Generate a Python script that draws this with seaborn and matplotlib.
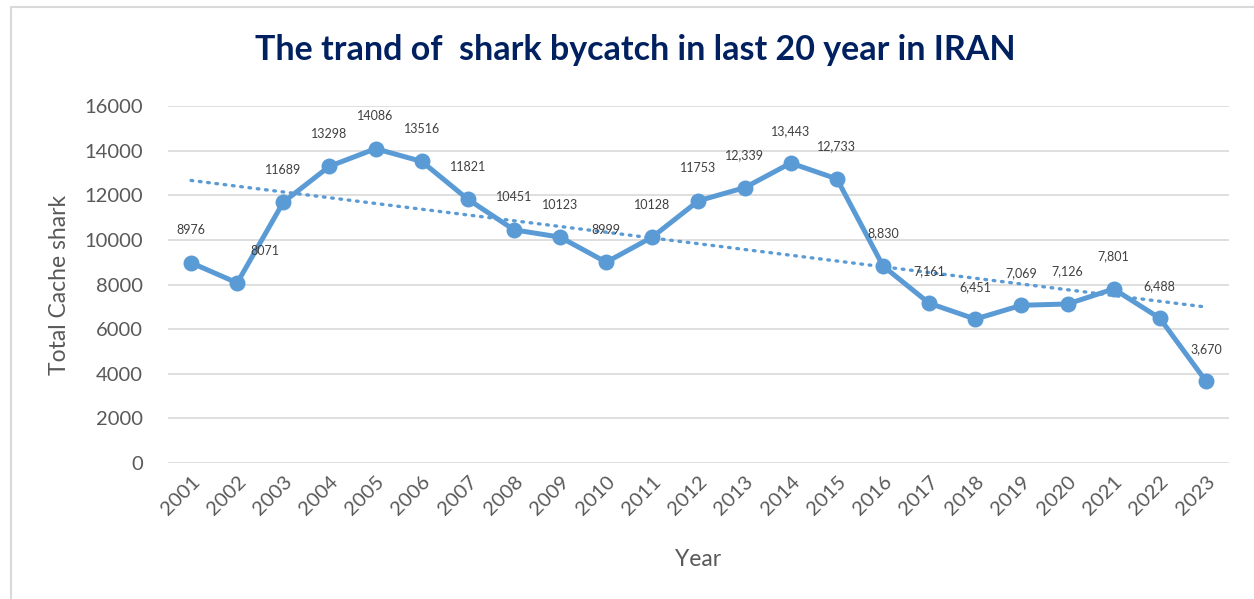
import numpy as np
import pandas as pd
import matplotlib
matplotlib.use("Agg")
import matplotlib.pyplot as plt
from matplotlib.lines import Line2D
import seaborn as sns

years = [2001, 2002, 2003, 2004, 2005, 2006, 2007, 2008, 2009, 2010, 2011, 2012,
         2013, 2014, 2015, 2016, 2017, 2018, 2019, 2020, 2021, 2022, 2023]
catch = [8976, 8071, 11689, 13298, 14086, 13516, 11821, 10451, 10123, 8999, 10128, 11753,
         12339, 13443, 12733, 8830, 7161, 6451, 7069, 7126, 7801, 6488, 3670]
point_labels = ["8976", "8071", "11689", "13298", "14086", "13516", "11821", "10451",
                "10123", "8999", "10128", "11753", "12,339", "13,443", "12,733", "8,830",
                "7,161", "6,451", "7,069", "7,126", "7,801", "6,488", "3,670"]
y_ticks = [0, 2000, 4000, 6000, 8000, 10000, 12000, 14000, 16000]

title = "The trand of  shark bycatch in last 20 year in IRAN"
xlabel = "Year"
ylabel = "Total Cache shark"

sns.set_theme(style="white")
plt.rcParams['font.family'] = ['Lato', 'DejaVu Sans']

W, H = 1254, 599
fig = plt.figure(figsize=(W / 100, H / 100), dpi=100)
ax = fig.add_axes([168 / W, 1 - 463 / H, (1229 - 168) / W, (463 - 106) / H])

blue = "#5B9BD5"
grey_text = "#595959"

df = pd.DataFrame({"Year": years, "Catch": catch})

# trendline (linear fit)
coef = np.polyfit(df["Year"], df["Catch"], 1)
trend = np.polyval(coef, df["Year"])
sns.lineplot(x=df["Year"], y=trend, ax=ax, color=blue, linewidth=2.4,
             linestyle=(0, (0.5, 2.0)), dash_capstyle="round", zorder=2)

sns.lineplot(data=df, x="Year", y="Catch", ax=ax, color=blue, linewidth=3.6,
             marker="o", markersize=11.5, markeredgewidth=0, zorder=3)

for i, (yr, v, lab) in enumerate(zip(years, catch, point_labels)):
    dx = 20 if lab == "8071" else 0
    ax.annotate(lab, (yr, v), xytext=(dx, 19), textcoords="offset points",
                ha="center", va="bottom", fontsize=9, color="#404040", zorder=4)

ax.set_xlim(years[0] - 0.5, years[-1] + 0.5)
ax.set_ylim(0, 16000)
ax.set_yticks(y_ticks)
ax.set_yticklabels([str(t) for t in y_ticks])
ax.set_xticks(years)
ax.set_xticklabels([str(y) for y in years], rotation=45, ha="right",
                   rotation_mode="anchor")
ax.tick_params(axis="y", length=0, pad=18, labelsize=14.5, labelcolor=grey_text)
ax.tick_params(axis="x", length=0, pad=7, labelsize=14.5, labelcolor=grey_text)
ax.grid(axis="y", color="#D9D9D9", linewidth=1.2)
ax.grid(axis="x", visible=False)
for s in ax.spines.values():
    s.set_visible(False)

ax.set_xlabel(xlabel, fontsize=16.5, color=grey_text, labelpad=22)
ax.set_ylabel(ylabel, fontsize=16.5, color=grey_text, labelpad=10)

fig.text(635 / W, 1 - 50 / H, title, ha="center", va="center", fontsize=24.5,
         fontweight="bold", color="#002060")

# chart border (top and left visible)
fig.add_artist(Line2D([11 / W, 1.0], [1 - 7 / H, 1 - 7 / H], color="#D9D9D9", linewidth=1.5))
fig.add_artist(Line2D([11 / W, 11 / W], [0, 1 - 7 / H], color="#D9D9D9", linewidth=1.5))

fig.savefig("out.png", dpi=100, facecolor="white")
